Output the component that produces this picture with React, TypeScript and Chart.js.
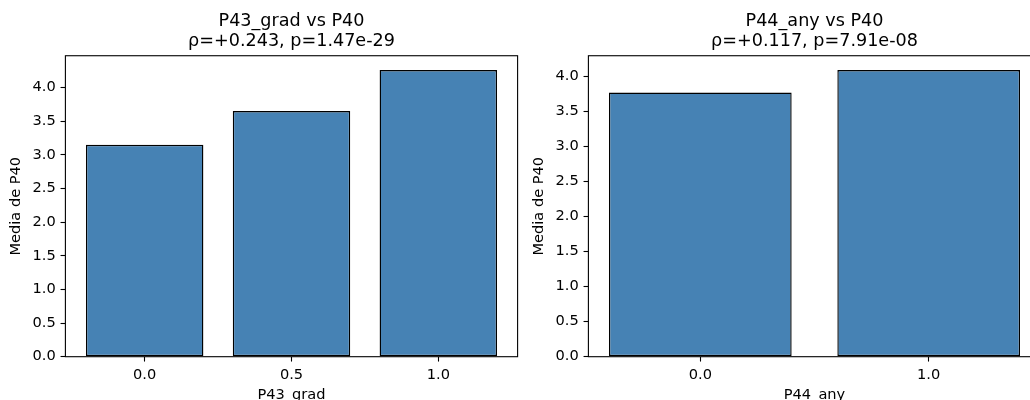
import React, { useEffect, useRef } from "react";
import { Chart, registerables } from "chart.js";

Chart.register(...registerables);

// ---- data ----
const leftCategories = [0.0, 0.5, 1.0];
const leftValues = [3.15, 3.65, 4.26];
const leftTitle = ["P43_grad vs P40", "ρ=+0.243, p=1.47e-29"];
const leftXLabel = "P43_grad";
const leftBarWidth = 0.4;

const rightCategories = [0.0, 1.0];
const rightValues = [3.77, 4.09];
const rightTitle = ["P44_any vs P40", "ρ=+0.117, p=7.91e-08"];
const rightXLabel = "P44_any";
const rightBarWidth = 0.8;

const yLabel = "Media de P40";
const yTicks = [0.0, 0.5, 1.0, 1.5, 2.0, 2.5, 3.0, 3.5, 4.0];

// ---- styling ----
const FAMILY = "'DejaVu Sans', sans-serif";
const tickFont = { family: FAMILY, size: 14.6, weight: "normal" as const, lineHeight: 1.2 };
const titleFont = { family: FAMILY, size: 17.6, weight: "normal" as const, lineHeight: 1.14 };
const BAR_COLOR = "#4682b4";
const CANVAS_W = 583;
const CANVAS_H = 410;
const SIDE_W = 65.4;
const X_AXIS_H = 53.3;

const framePlugin = {
  id: "frame",
  afterDatasetsDraw(chart: any) {
    const { ctx, chartArea: a } = chart;
    ctx.save();
    ctx.strokeStyle = "#000";
    ctx.lineWidth = 1.1;
    ctx.strokeRect(a.left, a.top, a.right - a.left, a.bottom - a.top);
    ctx.restore();
  },
};

function makeConfig(
  cats: number[],
  vals: number[],
  title: string[],
  xLabel: string,
  barWidth: number
): any {
  const lo = cats[0] - barWidth / 2;
  const hi = cats[cats.length - 1] + barWidth / 2;
  const margin = 0.05 * (hi - lo);
  let minGap = Infinity;
  for (let i = 1; i < cats.length; i++) minGap = Math.min(minGap, cats[i] - cats[i - 1]);
  const yMax = Math.max(...vals) * 1.05;

  const grid = {
    display: true,
    offset: false,
    drawOnChartArea: false,
    drawTicks: true,
    tickLength: 4.86,
    tickWidth: 1.1,
    tickColor: "#000",
  };

  return {
    type: "bar",
    data: {
      datasets: [
        {
          data: cats.map((c, i) => ({ x: c, y: vals[i] })),
          backgroundColor: BAR_COLOR,
          borderColor: "#000",
          borderWidth: 1.4,
          borderSkipped: false,
          barPercentage: barWidth / minGap,
          categoryPercentage: 1,
        },
      ],
    },
    options: {
      animation: false,
      responsive: false,
      devicePixelRatio: 1,
      layout: { padding: 0 },
      plugins: {
        legend: { display: false },
        tooltip: { enabled: false },
        title: {
          display: true,
          text: title,
          color: "#000",
          font: titleFont,
          padding: { top: 11.6, bottom: 4.0 },
        },
      },
      scales: {
        x: {
          type: "linear",
          position: "bottom",
          min: lo - margin,
          max: hi + margin,
          offset: false,
          afterBuildTicks: (s: any) => {
            s.ticks = cats.map((v) => ({ value: v }));
          },
          afterFit: (s: any) => {
            s.height = X_AXIS_H;
          },
          ticks: {
            callback: (v: any) => Number(v).toFixed(1),
            color: "#000",
            font: tickFont,
            padding: 5.2,
            maxRotation: 0,
            autoSkip: false,
          },
          grid,
          border: { display: false },
          title: {
            display: true,
            text: xLabel,
            color: "#000",
            font: tickFont,
            padding: { top: 0, bottom: 5.6 },
          },
        },
        y: {
          type: "linear",
          position: "left",
          min: 0,
          max: yMax,
          afterBuildTicks: (s: any) => {
            s.ticks = yTicks.map((v) => ({ value: v }));
          },
          afterFit: (s: any) => {
            s.width = SIDE_W;
          },
          ticks: {
            callback: (v: any) => Number(v).toFixed(1),
            color: "#000",
            font: tickFont,
            padding: 4.86,
            autoSkip: false,
          },
          grid,
          border: { display: false },
          title: {
            display: true,
            text: yLabel,
            color: "#000",
            font: tickFont,
            padding: { top: 7.6, bottom: 0 },
          },
        },
        yR: {
          type: "linear",
          position: "right",
          display: true,
          ticks: { display: false },
          grid: { display: false },
          border: { display: false },
          afterFit: (s: any) => {
            s.width = SIDE_W;
          },
        },
      },
    },
    plugins: [framePlugin],
  };
}

function BarPanel(props: {
  left: number;
  cats: number[];
  vals: number[];
  title: string[];
  xLabel: string;
  barWidth: number;
}) {
  const ref = useRef<HTMLCanvasElement | null>(null);
  useEffect(() => {
    if (!ref.current) return;
    const chart = new Chart(
      ref.current,
      makeConfig(props.cats, props.vals, props.title, props.xLabel, props.barWidth)
    );
    return () => chart.destroy();
  }, []);
  return (
    <canvas
      ref={ref}
      width={CANVAS_W}
      height={CANVAS_H}
      style={{ position: "absolute", left: props.left, top: 0, width: CANVAS_W, height: CANVAS_H }}
    />
  );
}

export default function App() {
  return (
    <div
      style={{
        position: "fixed",
        left: 0,
        top: 0,
        width: 1030,
        height: 400,
        overflow: "hidden",
        background: "#fff",
      }}
    >
      <BarPanel
        left={0}
        cats={leftCategories}
        vals={leftValues}
        title={leftTitle}
        xLabel={leftXLabel}
        barWidth={leftBarWidth}
      />
      <BarPanel
        left={523}
        cats={rightCategories}
        vals={rightValues}
        title={rightTitle}
        xLabel={rightXLabel}
        barWidth={rightBarWidth}
      />
    </div>
  );
}
